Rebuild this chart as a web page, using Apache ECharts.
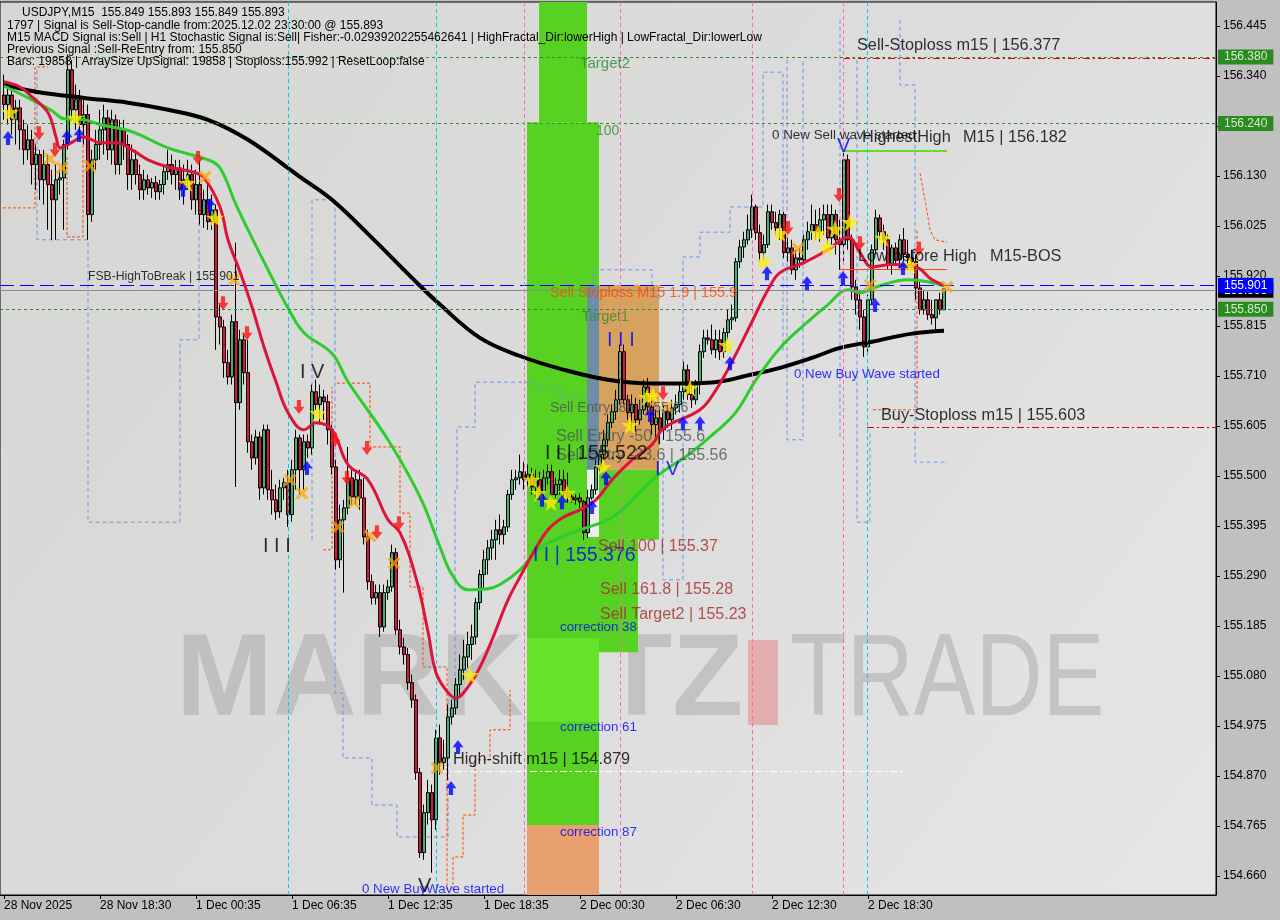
<!DOCTYPE html>
<html><head><meta charset="utf-8">
<script src="https://cdn.jsdelivr.net/npm/echarts@6/dist/echarts.min.js"></script>
<style>html,body{margin:0;padding:0;background:#c0c0c0}#chart{width:1280px;height:920px}</style>
</head><body><div id="chart"></div>
<script>
// ---------- data ----------
const timeLabels = ['28 Nov 2025','28 Nov 18:30','1 Dec 00:35','1 Dec 06:35','1 Dec 12:35','1 Dec 18:35','2 Dec 00:30','2 Dec 06:30','2 Dec 12:30','2 Dec 18:30'];
const timeLabelBars = [0,24,48,72,96,120,144,168,192,216];
const priceTicks = [154.660,154.765,154.870,154.975,155.080,155.185,155.290,155.395,155.500,155.605,155.710,155.815,155.920,156.025,156.130,156.235,156.340,156.445];

const opens = [
156.300,156.280,156.300,156.248,156.273,156.227,156.185,156.206,156.154,156.175,
156.122,156.154,156.112,156.080,156.122,156.126,156.196,156.353,156.269,156.290,
156.238,156.259,156.049,156.164,156.196,156.227,156.252,156.185,156.248,156.154,
156.227,156.196,156.133,156.164,156.133,156.101,156.122,156.105,156.116,156.097,
156.112,156.139,156.154,156.133,156.147,156.101,156.122,156.133,156.080,156.112,
156.049,156.080,156.034,156.059,155.834,155.813,155.738,155.708,155.824,155.654,
155.786,155.717,155.572,155.538,155.582,155.475,155.597,155.471,155.450,155.425,
155.475,155.486,155.419,155.513,155.580,155.513,155.572,155.559,155.677,155.650,
155.666,155.656,155.597,155.519,155.324,155.408,155.433,155.496,155.456,155.492,
155.454,155.372,155.278,155.244,155.255,155.183,155.255,155.267,155.339,155.177,
155.141,155.125,155.066,155.030,154.877,154.709,154.793,154.835,154.778,154.950,
154.898,154.908,154.994,155.013,155.062,155.093,155.120,155.146,155.162,155.234,
155.293,155.324,155.349,155.366,155.387,155.377,155.393,155.461,155.492,155.496,
155.509,155.492,155.503,155.477,155.492,155.465,155.496,155.509,155.461,155.482,
155.492,155.465,155.456,155.450,155.454,155.446,155.381,155.454,155.471,155.519,
155.545,155.576,155.612,155.635,155.660,155.761,155.660,155.633,155.650,155.618,
155.639,155.687,155.645,155.608,155.622,155.597,155.635,155.618,155.643,155.650,
155.677,155.723,155.671,155.660,155.692,155.761,155.790,155.786,155.765,155.786,
155.761,155.801,155.828,155.832,155.950,155.981,155.996,156.017,156.065,156.011,
155.969,155.986,156.055,156.032,156.021,156.049,155.969,155.979,155.933,155.958,
155.954,155.996,156.013,156.028,156.013,156.038,156.049,156.000,156.049,155.996,
155.986,156.164,155.996,155.897,155.870,155.834,155.771,155.870,155.975,156.042,
156.013,155.996,155.944,155.979,155.954,155.996,155.965,155.958,155.950,155.895,
155.849,155.870,155.839,155.832,155.870,155.849];
const closes = [
156.280,156.300,156.248,156.273,156.227,156.185,156.206,156.154,156.175,156.122,
156.154,156.112,156.080,156.122,156.126,156.196,156.353,156.269,156.290,156.238,
156.259,156.049,156.164,156.196,156.227,156.252,156.185,156.248,156.154,156.227,
156.196,156.133,156.164,156.133,156.101,156.122,156.105,156.116,156.097,156.112,
156.139,156.154,156.133,156.147,156.101,156.122,156.133,156.080,156.112,156.049,
156.080,156.034,156.059,155.834,155.813,155.738,155.708,155.824,155.654,155.786,
155.717,155.572,155.538,155.582,155.475,155.597,155.471,155.450,155.425,155.475,
155.486,155.419,155.513,155.580,155.513,155.572,155.559,155.677,155.650,155.666,
155.656,155.597,155.519,155.324,155.408,155.433,155.496,155.456,155.492,155.454,
155.372,155.278,155.244,155.255,155.183,155.255,155.267,155.339,155.177,155.141,
155.125,155.066,155.030,154.877,154.709,154.793,154.835,154.778,154.950,154.898,
154.908,154.994,155.013,155.062,155.093,155.120,155.146,155.162,155.234,155.293,
155.324,155.349,155.366,155.387,155.377,155.393,155.461,155.492,155.496,155.509,
155.492,155.503,155.477,155.492,155.465,155.496,155.509,155.461,155.482,155.492,
155.465,155.456,155.450,155.454,155.446,155.381,155.454,155.471,155.519,155.545,
155.576,155.612,155.635,155.660,155.761,155.660,155.633,155.650,155.618,155.639,
155.687,155.645,155.608,155.622,155.597,155.635,155.618,155.643,155.650,155.677,
155.723,155.671,155.660,155.692,155.761,155.790,155.786,155.765,155.786,155.761,
155.801,155.828,155.832,155.950,155.981,155.996,156.017,156.065,156.011,155.969,
155.986,156.055,156.032,156.021,156.049,155.969,155.979,155.933,155.958,155.954,
155.996,156.013,156.028,156.013,156.038,156.049,156.000,156.049,155.996,155.986,
156.164,155.996,155.897,155.870,155.834,155.771,155.870,155.975,156.042,156.013,
155.996,155.944,155.979,155.954,155.996,155.965,155.958,155.950,155.895,155.849,
155.870,155.839,155.832,155.870,155.849,155.893];
const highs = [
156.343,156.322,156.315,156.290,156.290,156.248,156.238,156.227,156.196,156.185,
156.185,156.175,156.143,156.154,156.143,156.206,156.385,156.374,156.322,156.311,
156.290,156.280,156.185,156.227,156.269,156.280,156.269,156.269,156.259,156.248,
156.248,156.217,156.196,156.185,156.154,156.143,156.133,156.126,156.130,156.122,
156.154,156.185,156.175,156.164,156.164,156.154,156.164,156.154,156.143,156.164,
156.101,156.112,156.091,156.070,155.860,155.828,155.765,155.839,155.990,155.807,
155.797,155.786,155.587,155.597,155.593,155.608,155.608,155.513,155.482,155.492,
155.496,155.513,155.534,155.597,155.587,155.587,155.587,155.692,155.702,155.692,
155.681,155.671,155.608,155.534,155.440,155.450,155.561,155.513,155.513,155.513,
155.496,155.387,155.293,155.272,155.272,155.272,155.282,155.356,155.349,155.198,
155.160,155.139,155.083,155.041,154.887,154.810,154.862,154.852,154.967,154.978,
154.946,155.020,155.030,155.076,155.125,155.156,155.173,155.188,155.244,155.303,
155.345,155.366,155.387,155.408,155.419,155.408,155.471,155.513,155.513,155.545,
155.530,155.524,155.517,155.513,155.509,155.513,155.524,155.524,155.496,155.513,
155.513,155.507,155.467,155.461,155.463,155.450,155.471,155.482,155.534,155.555,
155.597,155.629,155.650,155.681,155.776,155.776,155.671,155.671,155.664,155.660,
155.702,155.706,155.671,155.639,155.639,155.650,155.650,155.660,155.671,155.692,
155.740,155.734,155.692,155.702,155.776,155.807,155.807,155.818,155.807,155.807,
155.811,155.849,155.860,155.958,155.996,156.013,156.049,156.091,156.070,156.028,
156.007,156.070,156.070,156.055,156.059,156.055,156.000,155.996,155.975,155.979,
156.007,156.034,156.070,156.059,156.063,156.070,156.070,156.070,156.059,156.038,
156.182,156.175,156.007,155.912,155.891,155.849,155.881,155.986,156.059,156.049,
156.028,156.007,155.986,155.990,156.007,156.021,155.996,155.975,155.965,155.908,
155.891,155.887,155.870,155.870,155.885,155.893];
const lows = [
156.248,156.238,156.217,156.196,156.185,156.154,156.164,156.112,156.101,156.080,
156.070,156.017,155.996,155.996,156.091,156.017,156.185,156.248,156.227,156.206,
156.196,155.996,156.034,156.143,156.164,156.175,156.164,156.154,156.133,156.133,
156.164,156.101,156.101,156.112,156.080,156.080,156.091,156.084,156.080,156.080,
156.091,156.122,156.112,156.101,156.080,156.070,156.101,156.059,156.049,156.028,
156.021,156.017,156.017,155.765,155.776,155.706,155.692,155.692,155.477,155.639,
155.692,155.549,155.513,155.524,155.450,155.461,155.450,155.419,155.408,155.412,
155.450,155.393,155.404,155.471,155.461,155.471,155.538,155.545,155.639,155.608,
155.618,155.566,155.503,155.303,155.307,155.255,155.419,155.440,155.440,155.429,
155.356,155.261,155.230,155.230,155.162,155.173,155.240,155.257,155.167,155.125,
155.104,155.051,155.013,154.862,154.698,154.694,154.768,154.667,154.757,154.873,
154.883,154.862,154.978,154.999,155.041,155.072,155.097,155.114,155.146,155.219,
155.261,155.293,155.324,155.324,155.356,155.356,155.383,155.450,155.471,155.482,
155.471,155.475,155.461,155.450,155.454,155.450,155.482,155.450,155.454,155.461,
155.450,155.444,155.444,155.440,155.433,155.366,155.370,155.450,155.461,155.509,
155.534,155.566,155.601,155.618,155.650,155.650,155.618,155.597,155.593,155.608,
155.629,155.629,155.587,155.576,155.566,155.576,155.601,155.597,155.629,155.633,
155.660,155.660,155.643,155.650,155.671,155.748,155.776,155.755,155.748,155.744,
155.748,155.786,155.807,155.824,155.937,155.958,155.986,156.000,155.996,155.950,
155.954,155.979,156.017,156.007,155.996,155.958,155.950,155.923,155.912,155.937,
155.944,155.975,155.996,155.996,155.992,156.007,155.986,155.986,155.965,155.933,
155.950,155.975,155.870,155.839,155.807,155.750,155.761,155.860,155.965,155.996,
155.975,155.933,155.923,155.944,155.937,155.950,155.944,155.933,155.870,155.839,
155.839,155.828,155.818,155.807,155.839,155.849];

// moving averages read at points along each curve: [bar, price]
const maBlack = [[0,156.322],[8,156.307],[20,156.294],[31,156.284],[41,156.269],[51,156.248],[61,156.206],[74,156.128],[82,156.080],[92,156.000],[102,155.916],[109,155.860],[119,155.790],[129,155.752],[140,155.723],[151,155.702],[162,155.694],[176,155.696],[187,155.713],[194,155.727],[202,155.748],[209,155.769],[217,155.782],[227,155.799],[235,155.805]];
const maGreen = [[0,156.319],[7,156.290],[12,156.267],[15,156.250],[20,156.248],[24,156.238],[32,156.223],[41,156.189],[51,156.164],[54,156.147],[58,156.070],[62,156.000],[66,155.933],[71,155.853],[75,155.801],[82,155.757],[86,155.698],[96,155.576],[104,155.456],[109,155.351],[112,155.293],[116,155.261],[121,155.263],[124,155.272],[129,155.303],[134,155.349],[144,155.387],[150,155.404],[154,155.425],[163,155.498],[171,155.544],[178,155.593],[183,155.634],[188,155.702],[194,155.769],[200,155.817],[206,155.860],[211,155.891],[214,155.885],[218,155.897],[226,155.912],[231,155.908],[235,155.899]];
const maRed = [[0,156.328],[4,156.317],[7,156.296],[11,156.263],[13,156.212],[14,156.189],[16,156.196],[20,156.212],[24,156.200],[28,156.200],[32,156.185],[36,156.164],[41,156.149],[47,156.139],[50,156.126],[54,156.065],[56,155.996],[59,155.929],[62,155.855],[65,155.771],[68,155.698],[71,155.633],[75,155.597],[78,155.612],[82,155.597],[86,155.524],[91,155.492],[96,155.408],[99,155.381],[103,155.286],[106,155.173],[108,155.087],[111,155.045],[113,155.034],[116,155.057],[119,155.099],[122,155.156],[126,155.240],[129,155.288],[132,155.334],[136,155.387],[140,155.414],[144,155.429],[148,155.450],[152,155.492],[157,155.534],[162,155.566],[165,155.601],[174,155.639],[178,155.681],[182,155.740],[187,155.824],[191,155.891],[194,155.927],[200,155.948],[206,155.975],[211,156.002],[214,155.969],[217,155.939],[222,155.944],[228,155.939],[232,155.912],[235,155.901]];

// channel step lines: [bar, price] vertices
const blueSteps = [
 [[8.25,156.353],[8.25,155.996],[21,155.996],[21,155.403],[44,155.403],[44,155.786],[48.75,155.786],[48.75,156.080]],
 [[77,155.366],[77,156.080],[82.75,156.080],[82.75,155.044],[84.75,155.044],[84.75,154.908],[92,154.908],[92,154.809],[98.25,154.809],[98.25,154.742],[111,154.742],[111,155.030],[112.75,155.030],[112.75,155.471],[113.25,155.471],[113.25,155.603],[117.75,155.603],[117.75,155.697],[132.75,155.697],[132.75,155.685],[139,155.685],[139,155.666],[147.25,155.666],[147.25,155.933],[162,155.933],[162,155.874],[164,155.874]],
 [[169.75,155.282],[169.75,155.960],[174,155.960],[174,156.012],[181.5,156.012],[181.5,156.065],[189.75,156.065],[189.75,156.348],[194.75,156.348],[194.75,155.758]],
 [[164.75,155.534],[164.75,155.282],[169.75,155.282]],
 [[195.75,156.374],[195.75,155.576],[199.75,155.576],[199.75,156.374]],
 [[209,156.458],[209,155.576]],
 [[213.25,156.374],[213.25,155.403],[216.5,155.403],[216.5,155.596]],
 [[224,156.458],[224,156.321],[227.75,156.321],[227.75,155.529],[236,155.529]]
];
const orangeSteps = [
 [[-0.25,156.063],[7.75,156.063],[7.75,156.359],[11,156.359]],
 [[15.75,156.170],[15.75,156.002],[19.75,156.002],[19.75,156.283]],
 [[79.75,155.345],[82,155.345],[82,155.687]],
 [[83.25,155.695],[91.5,155.695],[91.5,155.561],[99,155.561],[99,155.422],[101.5,155.422],[101.5,155.267],[104.75,155.267],[104.75,155.099],[110.75,155.099],[110.75,154.631]],
 [[112.25,154.631],[112.25,154.700],[114.75,154.700],[114.75,154.788],[117.75,154.788],[117.75,154.904],[121.5,154.904],[121.5,154.967],[126.5,154.967],[126.5,155.051]],
 [[229,156.136],[230.25,156.080],[231.5,156.017],[232.75,155.996],[235.75,155.991]],
 [[217.25,155.639],[228.25,155.639],[228.25,156.017]]
];

// signal markers: [bar, price]
const sellArrows = [[8.75,156.220],[12.75,156.185],[48.5,156.168],[54.75,155.863],[60.75,155.800],[73.75,155.645],[82.75,155.576],[85.75,155.496],[90.75,155.559],[93.25,155.382],[98.75,155.401],[164.75,155.674],[196,156.021],[208.75,156.090],[214,155.989],[228.75,155.977]];
const buyArrows = [[1,156.210],[15.75,156.212],[18.75,156.216],[44.75,156.101],[51.5,156.069],[75.75,155.517],[111.75,154.845],[113.5,154.931],[134.5,155.450],[139.5,155.445],[147,155.435],[150.5,155.496],[161.5,155.628],[169.75,155.611],[174,155.611],[181.5,155.737],[190.75,155.926],[200.75,155.905],[209.75,155.916],[217.75,155.859],[224.75,155.937]];
const stars = [[1.5,156.264],[17.75,156.252],[45.75,156.115],[52.75,156.042],[78.5,155.632],[116.5,155.082],[132,155.492],[133.75,155.464],[136.75,155.445],[140.75,155.464],[149.75,155.519],[156.5,155.607],[160.75,155.666],[162.25,155.670],[171.5,155.685],[180.75,155.775],[190,155.951],[194,156.010],[203.5,156.010],[205.75,155.981],[207.75,156.019],[211.5,156.033],[219.75,156.000],[226.5,155.943]];
const crosses = [[11.5,156.166],[14.5,156.147],[21.5,156.151],[50.25,156.128],[57.5,155.912],[71.5,155.492],[74.5,155.464],[83.5,155.393],[87.5,155.445],[91.5,155.374],[97.5,155.317],[108.25,154.887],[165.75,155.645],[198.5,155.977],[216.5,155.901],[235.75,155.897]];

// level lines
const levelGreen = [156.380, 156.240, 155.850];
const fsbLevel = 155.901, bidLevel = 155.893;
const sellStop = 156.377, buyStop = 155.603, highestHigh = 156.182, lowBeforeHigh = 155.935, highShift = 154.879;

// zones: [barFrom, priceTop, barTo, priceBottom, kind]
const zones = [
  [130.75,156.243,148.75,154.767,'green'],
  [133.75,156.4954,145.75,156.243,'green'],
  [148.75,155.513,163.75,155.366,'green'],
  [148.75,155.366,158.5,155.130,'green'],
  [130.75,155.160,148.75,154.984,'lime'],
  [130.75,154.767,148.75,154.6201,'orange'],
  [145.75,155.901,148.75,155.513,'steel'],
  [145.75,155.513,148.75,155.372,'white'],
  [148.75,155.901,163.75,155.513,'tan']
];
const vLines = [[71,'cyan'],[108,'cyan'],[215.75,'cyan'],[130,'pink'],[154,'pink'],[187,'pink'],[209.75,'pink']];

// notes: [bar, price, text, kind]
const notes = [
 [213.25,156.405,'Sell-Stoploss m15 | 156.377','big'],
 [214.5,156.210,'HighestHigh','big'],
 [239.75,156.210,'M15 | 156.182','big'],
 [192,156.216,'0 New Sell wave started','small'],
 [213.5,155.960,'Low before High','big'],
 [246.5,155.960,'M15-BOS','big'],
 [197.5,155.714,'0 New Buy Wave started','blueSmall'],
 [219.25,155.628,'Buy-Stoploss m15 | 155.603','big'],
 [21,155.918,'FSB-HighToBreak | 155.901','fsb'],
 [136.5,155.884,'Sell Stoploss M15 1.9 | 155.9','orange'],
 [144.5,155.834,'Target1','green'],
 [144,156.365,'Target2','green2'],
 [148,156.224,'100','green'],
 [150.75,155.784,'I I I','romanBlue'],
 [136.5,155.643,'Sell Entry -88 | 155.66','gray'],
 [138,155.582,'Sell Entry -50 | 155.6','grayBig'],
 [138,155.542,'Sell Entry -23.6 | 155.56','grayBig'],
 [135.25,155.548,'I I | 155.522','price'],
 [162.75,155.513,'I V','romanBlue'],
 [132.25,155.332,'I I | 155.376','priceBlue'],
 [148.5,155.351,'Sell 100 | 155.37','brown'],
 [149,155.261,'Sell 161.8 | 155.28','brown'],
 [149,155.210,'Sell Target2 | 155.23','brown'],
 [139,155.183,'correction 38','blueSmall'],
 [139,154.973,'correction 61','blueSmall'],
 [139,154.752,'correction 87','blueSmall'],
 [112.25,154.904,'High-shift m15 | 154.879','big'],
 [89.5,154.631,'0 New BuyWave started','blueSmall'],
 [103.5,154.637,'V','roman'],
 [74,155.718,'I V','roman'],
 [64.75,155.351,'I I I','roman'],
 [208.25,156.191,'V','romanBlue']
];

const headerLines = [
 'USDJPY,M15  155.849 155.893 155.849 155.893',
 '1797 | Signal is Sell-Stop-candle from:2025.12.02 23:30:00 @ 155.893',
 'M15 MACD Signal is:Sell | H1 Stochastic Signal is:Sell| Fisher:-0.02939202255462641 | HighFractal_Dir:lowerHigh | LowFractal_Dir:lowerLow',
 'Previous Signal :Sell-ReEntry from: 155.850',
 'Bars: 19858 | ArraySize UpSignal: 19858 | Stoploss:155.992 | ResetLoop:false'
];

// ---------- styles ----------
const FONT = '"Liberation Sans", Arial, sans-serif';
const zoneColors = {green:'#58d222', lime:'#66e22a', orange:'#e8a06e', steel:'#6e8ea2', white:'#eeeeee', tan:'#d6a25e'};
const vColors = {cyan:'#00d0e0', pink:'#ff69b4'};
const noteStyles = {
  big:{fontSize:16.3,color:'#000'}, small:{fontSize:13.4,color:'#000'}, fsb:{fontSize:12.2,color:'#000'},
  blueSmall:{fontSize:13.3,color:'#0000ff'},
  orange:{fontSize:14.4,color:'#ff4500'}, green:{fontSize:14,color:'#2e8b2e'}, green2:{fontSize:15,color:'#2e8b2e'},
  gray:{fontSize:14,color:'#4a5555'}, grayBig:{fontSize:16,color:'#4a5555'},
  brown:{fontSize:16,color:'#a52a2a'}, roman:{fontSize:20,color:'#000'}, romanBlue:{fontSize:20,color:'#0000ff'},
  price:{fontSize:19.5,color:'#000'}, priceBlue:{fontSize:19.5,color:'#0000ff'}
};
const STAR = 'path://M50,0 L61,35 L98,35 L68,57 L79,91 L50,70 L21,91 L32,57 L2,35 L39,35 Z';
const CROSS = 'path://M0,18 L18,0 L50,32 L82,0 L100,18 L68,50 L100,82 L82,100 L50,68 L18,100 L0,82 L32,50 Z';
const DOWN = 'path://M32,0 L68,0 L68,48 L98,48 L50,100 L2,48 L32,48 Z';
const UP = 'path://M32,100 L68,100 L68,52 L98,52 L50,0 L2,52 L32,52 Z';

const chart = echarts.init(document.getElementById('chart'), null, {renderer:'canvas'});
const XMAX = 303;
const boxLabel = (txt, bg, fg) => ({show:true, position:'end', distance:2, formatter:txt, backgroundColor:bg, color:fg,
  padding:[2,6,1,6], fontSize:12, fontFamily:FONT});

const lineData = [];
levelGreen.forEach(p => lineData.push({yAxis:p, lineStyle:{color:'#2e8b2e', type:[3,3], width:1},
  label: boxLabel(p.toFixed(3), '#2b8a22', '#d0f0c8')}));
lineData.push({yAxis:bidLevel, lineStyle:{color:'#8a8a8a', type:'solid', width:1}, label: boxLabel(bidLevel.toFixed(3), '#000', '#fff')});
lineData.push({yAxis:fsbLevel, lineStyle:{color:'#0000ff', type:[14,6], width:1}, label: boxLabel(fsbLevel.toFixed(3), '#0000ff', '#fff')});
lineData.push([{coord:[209.75,sellStop], lineStyle:{color:'#e00000', type:[7,3,2,3], width:1}},{coord:[XMAX,sellStop]}]);
lineData.push([{coord:[215.75,buyStop], lineStyle:{color:'#e00000', type:[7,3,2,3], width:1}},{coord:[XMAX,buyStop]}]);
lineData.push([{coord:[209.75,highestHigh], lineStyle:{color:'#66dd22', type:'solid', width:2}},{coord:[235.75,highestHigh]}]);
lineData.push([{coord:[209,lowBeforeHigh], lineStyle:{color:'#ff4500', type:'solid', width:1}},{coord:[235.75,lowBeforeHigh]}]);
lineData.push([{coord:[109,highShift], lineStyle:{color:'#ffffff', type:[7,3,2,3], width:1}},{coord:[225,highShift]}]);
vLines.forEach(([v,k]) => lineData.push({xAxis:v, lineStyle:{color:vColors[k], type:[4,3], width:1}}));

const option = {
  animation:false,
  backgroundColor:'#c0c0c0',
  grid:{left:0, right:64, top:2, bottom:25, show:true, borderColor:'#000', borderWidth:1, backgroundColor:'transparent'},
  xAxis:{type:'value', min:-1, max:XMAX, position:'bottom',
    axisLine:{show:true, onZero:false, lineStyle:{color:'#000'}},
    axisTick:{show:true, customValues:timeLabelBars, length:4, lineStyle:{color:'#000'}},
    axisLabel:{customValues:timeLabelBars, formatter:v=>timeLabels[timeLabelBars.indexOf(v)], align:'left', margin:5,
      color:'#000', fontSize:12, fontFamily:FONT},
    splitLine:{show:false}},
  yAxis:{type:'value', position:'right', min:154.6201, max:156.4954, scale:true,
    axisLine:{show:true, onZero:false, lineStyle:{color:'#000'}},
    axisTick:{show:true, customValues:priceTicks, length:4, lineStyle:{color:'#000'}},
    axisLabel:{customValues:priceTicks, formatter:v=>v.toFixed(3), margin:7, color:'#000', fontSize:12, fontFamily:FONT},
    splitLine:{show:false}},
  graphic:[
    {type:'rect', z:-20, silent:true, shape:{x:0,y:2,width:1216,height:893},
      style:{fill:new echarts.graphic.LinearGradient(0,0,1,1,[{offset:0,color:'#d6d6d4'},{offset:0.5,color:'#dcdcdc'},{offset:1,color:'#e6e6e6'}])}},
    {type:'text', z:-10, silent:true, style:{text:'MARKETZ', x:176, y:683, fill:'rgba(165,165,165,0.5)', font:'bold 116px '+FONT, verticalAlign:'middle'}},
    {type:'rect', z:-10, silent:true, shape:{x:748,y:640,width:30,height:85}, style:{fill:'rgba(232,140,140,0.6)'}},
    {type:'text', z:-10, silent:true, scaleX:0.8, x:790, style:{text:'TRADE', x:0, y:683, fill:'rgba(165,165,165,0.5)', font:'116px '+FONT, verticalAlign:'middle'}},
  ].concat(headerLines.map((t,i)=>({type:'text', z:50, silent:true,
    style:{text:t, x: i===0?22:7, y:13+12.2*i, fill:'#000', font:'12px '+FONT, verticalAlign:'middle'}}))),
  series:[
    {name:'zones', type:'line', data:[], z:1, silent:true,
      markArea:{silent:true, data: zones.map(([x1,y1,x2,y2,k])=>[{coord:[x1,y1], itemStyle:{color:zoneColors[k]}},{coord:[x2,y2]}])},
      markLine:{silent:true, symbol:['none','none'], label:{show:false}, data: lineData}},
    {name:'blueSteps', type:'lines', coordinateSystem:'cartesian2d', polyline:true, z:2, silent:true,
      data: blueSteps.map(c=>({coords:c})), lineStyle:{color:'#6495ed', type:[4,3], width:1, opacity:1}},
    {name:'orangeSteps', type:'lines', coordinateSystem:'cartesian2d', polyline:true, z:2, silent:true,
      data: orangeSteps.map(c=>({coords:c})), lineStyle:{color:'#ff4500', type:[3,2], width:1, opacity:1}},
    {name:'candles', type:'candlestick', z:3, barWidth:3,
      data: opens.map((o,i)=>[i,o,closes[i],lows[i],highs[i]]), encode:{x:0, y:[1,2,3,4]},
      itemStyle:{color:'#3cb371', color0:'#dc143c', borderColor:'#000', borderColor0:'#000', borderWidth:1}},
    {name:'MA200', type:'line', data:maBlack, smooth:0.4, showSymbol:false, z:4, lineStyle:{color:'#000', width:4}},
    {name:'MA50', type:'line', data:maGreen, smooth:0.4, showSymbol:false, z:4, lineStyle:{color:'#2ecc2e', width:3}},
    {name:'MA20', type:'line', data:maRed, smooth:0.4, showSymbol:false, z:5, lineStyle:{color:'#dc143c', width:3}},
    {name:'cross', type:'scatter', z:6, data:crosses, symbol:CROSS, symbolSize:13, itemStyle:{color:'rgba(255,165,0,0.9)'}},
    {name:'star', type:'scatter', z:7, data:stars, symbol:STAR, symbolSize:18, itemStyle:{color:'#ffee00'}},
    {name:'sell', type:'scatter', z:7, data:sellArrows, symbol:DOWN, symbolSize:[11,14], itemStyle:{color:'#ff1010'}},
    {name:'buy', type:'scatter', z:7, data:buyArrows, symbol:UP, symbolSize:[11,14], itemStyle:{color:'#0000ff'}},
    {name:'notes', type:'scatter', z:9, symbolSize:0, silent:true,
      data: notes.map(([v,p,t,k])=>({value:[v,p], label:{show:true, position:'right', distance:0, formatter:t,
        fontFamily:FONT, fontSize:noteStyles[k].fontSize, color:noteStyles[k].color}}))}
  ]
};
chart.setOption(option);
</script></body></html>
